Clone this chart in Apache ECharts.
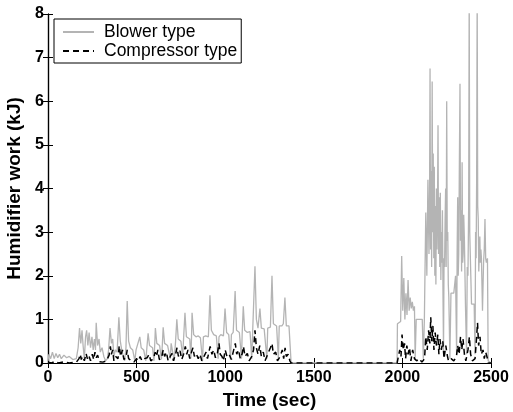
<!DOCTYPE html>
<html>
<head>
<meta charset="utf-8">
<script src="https://cdn.jsdelivr.net/npm/echarts@6/dist/echarts.min.js"></script>
<style>
  html, body { margin: 0; padding: 0; background: #fff; }
  #chart { width: 513px; height: 412px; }
</style>
</head>
<body>
<div id="chart"></div>
<script>
// x ticks
var xTicks = [0, 500, 1000, 1500, 2000, 2500]
var yTicks = [0, 1, 2, 3, 4, 5, 6, 7, 8]

// Blower type: time (sec) / work (kJ)
var blowerT = [0, 5, 15, 25, 35, 45, 55, 65, 75, 90, 105, 120, 140, 160, 170, 178, 185, 192, 198, 205,
  212, 218, 225, 232, 240, 248, 255, 262, 268, 272, 280, 288, 295, 305, 315, 325, 335, 342, 350, 358,
  365, 372, 380, 390, 400, 408, 416, 425, 432, 440, 447, 455, 465, 478, 490, 497, 505, 518, 526, 540,
  552, 558, 565, 573, 590, 598, 602, 606, 614, 630, 640, 645, 650, 658, 675, 690, 695, 705, 712, 720,
  727, 735, 750, 760, 765, 773, 781, 800, 806, 810, 813, 822, 835, 848, 860, 872, 877, 890, 905, 914,
  922, 935, 950, 960, 965, 975, 990, 999, 1008, 1020, 1030, 1035, 1045, 1056, 1064, 1080, 1092, 1096, 1102, 1110,
  1125, 1140, 1150, 1155, 1168, 1176, 1185, 1196, 1204, 1220, 1235, 1240, 1255, 1264, 1272, 1290, 1300, 1305, 1320, 1328,
  1337, 1345, 1360, 1368, 1372, 1970,
  1972, 1980, 1990, 1996, 2002, 2008, 2014, 2020, 2026, 2032, 2038, 2044, 2050, 2056, 2062, 2068, 2072, 2078, 2095, 2112,
  2118, 2124, 2132, 2138, 2144, 2150, 2153, 2156, 2159, 2162, 2165, 2168, 2171, 2174, 2177, 2180, 2183, 2186, 2189, 2192,
  2195, 2198, 2201, 2204, 2208, 2211, 2214, 2217, 2220, 2223, 2226, 2229, 2232, 2235, 2238, 2241, 2244, 2247, 2250, 2253,
  2256, 2259, 2262, 2268, 2274, 2290, 2300, 2306, 2309, 2312, 2315, 2318, 2321, 2325, 2328, 2331, 2334, 2337, 2340, 2343,
  2346, 2350, 2356, 2362, 2366, 2370, 2374, 2377, 2380, 2383, 2390, 2405, 2410, 2413, 2416, 2419, 2422, 2425, 2428, 2431,
  2434, 2437, 2440, 2443, 2446, 2452, 2458, 2462, 2466, 2470, 2474, 2480, 2484, 2500]
var blowerY = [0.05, 0.2, 0.1, 0.25, 0.1, 0.22, 0.12, 0.2, 0.1, 0.18, 0.12, 0.15, 0.08, 0.1, 0.35, 0.8, 0.45, 0.75, 0.4, 0.1,
  0.6, 0.75, 0.4, 0.7, 0.35, 0.6, 0.3, 0.55, 0.3, 0.92, 0.4, 0.55, 0.25, 0.35, 0.15, 0.05, 0.1, 0.3, 0.8, 0.45,
  0.55, 0.15, 0.3, 0.25, 1.05, 0.5, 0.3, 0.3, 0.05, 0.35, 1.42, 0.5, 0.35, 0.3, 0.05, 0.3, 0.3, 0.6, 0.35, 0.3,
  0.05, 0.35, 0.68, 0.4, 0.35, 0.05, 0.4, 0.8, 0.45, 0.4, 0.08, 0.4, 0.82, 0.45, 0.4, 0.1, 0.45, 0.45, 0.05, 0.5,
  1.0, 0.55, 0.5, 0.15, 0.55, 1.15, 0.6, 0.55, 0.1, 0.6, 1.15, 0.65, 0.6, 0.62, 0.58, 0.05, 0.6, 0.62, 0.6, 1.55,
  0.75, 0.65, 0.62, 0.1, 0.6, 0.65, 0.62, 1.25, 0.7, 0.65, 0.08, 0.65, 0.7, 1.65, 0.75, 0.7, 0.1, 0.7, 1.3, 0.75,
  0.7, 0.72, 0.1, 0.72, 2.22, 1.0, 0.8, 1.25, 0.8, 0.78, 0.1, 0.8, 0.82, 2.0, 0.9, 0.85, 0.1, 0.85, 0.85, 0.9,
  1.5, 0.85, 0.85, 0.85, 0.0, 0.0,
  0.9, 0.9, 0.95, 2.45, 1.2, 1.95, 1.0, 1.6, 1.1, 1.9, 1.2, 1.5, 1.25, 1.4, 1.2, 1.3, 0.1, 1.0, 1.0, 1.0,
  0.1, 1.0, 3.45, 2.0, 4.2, 2.5, 3.6, 6.75, 2.6, 4.4, 2.2, 6.45, 3.0, 4.8, 2.4, 4.5, 2.0, 3.6, 1.8, 4.0,
  2.6, 3.4, 5.45, 2.5, 3.8, 2.2, 3.9, 1.9, 3.0, 2.3, 3.5, 1.6, 0.3, 2.4, 2.2, 3.3, 4.0, 2.2, 6.0, 2.8,
  3.0, 1.8, 1.5, 0.1, 1.6, 1.6, 2.0, 0.2, 2.6, 3.8, 2.0, 2.5, 4.3, 6.4, 2.8, 3.5, 2.1, 4.6, 2.3, 2.5,
  3.4, 2.8, 1.3, 0.2, 2.2, 2.0, 3.6, 8.5, 3.0, 2.5, 1.35, 1.35, 0.2, 3.0, 2.4, 4.2, 8.5, 3.6, 3.3, 2.1,
  2.5, 2.9, 2.3, 2.6, 2.4, 1.2, 2.3, 2.6, 3.3, 2.4, 2.3, 2.4, 0.05, 0.0]

// Compressor type: time (sec) / work (kJ)
var compT = [0, 10, 20, 40, 60, 90, 120, 160, 175, 182, 188, 195, 205, 215, 222, 230, 240, 250, 258, 265,
  272, 280, 290, 310, 330, 345, 352, 358, 365, 372, 382, 395, 402, 410, 420, 428, 440, 447, 455, 470,
  485, 500, 510, 520, 530, 545, 560, 570, 580, 595, 605, 612, 620, 628, 640, 650, 658, 668, 678, 690,
  700, 708, 720, 728, 736, 745, 755, 765, 775, 783, 790, 800, 810, 818, 826, 836, 848, 858, 868, 880,
  892, 900, 915, 925, 935, 945, 955, 965, 972, 982, 990, 1000, 1010, 1022, 1035, 1045, 1057, 1065, 1075, 1085,
  1095, 1103, 1112, 1125, 1135, 1150, 1160, 1168, 1176, 1185, 1195, 1204, 1215, 1225, 1240, 1255, 1264, 1272, 1285, 1295,
  1310, 1322, 1330, 1338, 1345, 1355, 1365, 1372, 1970,
  1975, 1985, 1992, 1998, 2005, 2012, 2018, 2025, 2032, 2040, 2048, 2058, 2068, 2080, 2095, 2110, 2125, 2132, 2140, 2148,
  2155, 2160, 2166, 2172, 2178, 2185, 2192, 2200, 2206, 2212, 2220, 2228, 2235, 2245, 2252, 2260, 2275, 2290, 2305, 2312,
  2320, 2328, 2335, 2342, 2350, 2358, 2370, 2378, 2385, 2395, 2410, 2418, 2424, 2430, 2438, 2445, 2455, 2462, 2470, 2480,
  2485, 2500]
var compY = [0.02, 0.05, 0.0, 0.04, 0.0, 0.03, 0.0, 0.02, 0.1, 0.2, 0.08, 0.15, 0.05, 0.22, 0.1, 0.18, 0.05, 0.2, 0.08, 0.25,
  0.12, 0.18, 0.03, 0.02, 0.05, 0.18, 0.38, 0.2, 0.3, 0.05, 0.15, 0.1, 0.4, 0.15, 0.3, 0.08, 0.12, 0.3, 0.1, 0.05,
  0.02, 0.1, 0.05, 0.15, 0.05, 0.1, 0.12, 0.2, 0.05, 0.1, 0.25, 0.15, 0.3, 0.08, 0.1, 0.3, 0.15, 0.25, 0.05, 0.15,
  0.22, 0.05, 0.2, 0.35, 0.15, 0.28, 0.08, 0.2, 0.38, 0.2, 0.3, 0.1, 0.25, 0.35, 0.15, 0.22, 0.1, 0.2, 0.05, 0.15,
  0.25, 0.1, 0.38, 0.2, 0.3, 0.12, 0.2, 0.45, 0.2, 0.15, 0.05, 0.3, 0.15, 0.2, 0.08, 0.25, 0.45, 0.2, 0.3, 0.1,
  0.2, 0.38, 0.15, 0.22, 0.05, 0.15, 0.3, 0.75, 0.35, 0.2, 0.4, 0.15, 0.25, 0.05, 0.2, 0.35, 0.45, 0.2, 0.25, 0.05,
  0.15, 0.3, 0.1, 0.35, 0.15, 0.2, 0.05, 0.0, 0.0,
  0.1, 0.3, 0.15, 0.65, 0.3, 0.45, 0.1, 0.4, 0.2, 0.35, 0.05, 0.3, 0.1, 0.05, 0.1, 0.02, 0.1, 0.6, 0.3, 0.75,
  0.45, 1.05, 0.5, 0.85, 0.3, 0.7, 0.4, 0.65, 0.2, 0.55, 0.3, 0.5, 0.1, 0.4, 0.2, 0.05, 0.1, 0.05, 0.15, 0.4,
  0.2, 0.6, 0.3, 0.55, 0.2, 0.05, 0.3, 0.6, 0.2, 0.05, 0.1, 0.55, 0.92, 0.4, 0.6, 0.2, 0.3, 0.1, 0.25, 0.1,
  0.0, 0.0]

var blowerData = blowerT.map(function (t, i) { return [t, blowerY[i]] })
var compData = compT.map(function (t, i) { return [t, compY[i]] })

var fontFamily = 'Liberation Sans, Arial, sans-serif'
var labelFont = { color: '#000', fontSize: 16, fontWeight: 'bold', fontFamily: fontFamily }
var nameFont = { color: '#000', fontSize: 19, fontWeight: 'bold', fontFamily: fontFamily }
var axisLine = { show: true, lineStyle: { color: '#000', width: 1.2 } }
var axisTick = { show: true, inside: true, length: 5, lineStyle: { color: '#000', width: 1 } }

var myChart = echarts.init(document.getElementById('chart'))
var option = {
  animation: false,
  backgroundColor: '#fff',
  grid: { left: 48, right: 22, top: 14, bottom: 49, containLabel: false, outerBoundsMode: 'none' },
  legend: {
    left: 54, top: 19,
    orient: 'vertical',
    backgroundColor: '#fff',
    borderColor: '#000',
    borderWidth: 1,
    borderRadius: 0,
    padding: [4, 4, 3, 8],
    itemWidth: 31,
    itemHeight: 10,
    itemGap: 1,
    itemStyle: { opacity: 0 },
    textStyle: { color: '#000', fontSize: 17.5, fontFamily: fontFamily, padding: [0, 0, 0, 5] },
    data: ['Blower type', 'Compressor type']
  },
  xAxis: [{
    type: 'value', min: 0, max: 2500, interval: 500,
    name: 'Time (sec)', nameLocation: 'middle', nameGap: 25,
    nameTextStyle: nameFont,
    axisLine: axisLine, axisTick: axisTick,
    axisLabel: Object.assign({ margin: 7, formatter: function (v) { return String(v) } }, labelFont),
    splitLine: { show: false }
  }, {
    type: 'value', min: 0, max: 2500, interval: 500, position: 'top',
    axisLine: axisLine, axisTick: axisTick, axisLabel: { show: false }, splitLine: { show: false }
  }],
  yAxis: [{
    type: 'value', min: 0, max: 8, interval: 1,
    name: 'Humidifier work (kJ)', nameLocation: 'middle', nameGap: 21,
    nameTextStyle: nameFont,
    axisLine: axisLine, axisTick: axisTick,
    axisLabel: Object.assign({ margin: 4 }, labelFont),
    splitLine: { show: false }
  }, {
    type: 'value', min: 0, max: 8, interval: 1, position: 'right',
    axisLine: axisLine, axisTick: axisTick, axisLabel: { show: false }, splitLine: { show: false }
  }],
  series: [{
    name: 'Blower type',
    type: 'line',
    data: blowerData,
    showSymbol: false,
    symbol: 'none',
    clip: true,
    lineStyle: { color: '#b4b4b4', width: 1.3 },
    itemStyle: { color: '#b4b4b4' }
  }, {
    name: 'Compressor type',
    type: 'line',
    data: compData,
    showSymbol: false,
    symbol: 'none',
    clip: true,
    lineStyle: { color: '#000', width: 1.5, type: [6, 4] },
    itemStyle: { color: '#000' }
  }]
}
myChart.setOption(option)
</script>
</body>
</html>
